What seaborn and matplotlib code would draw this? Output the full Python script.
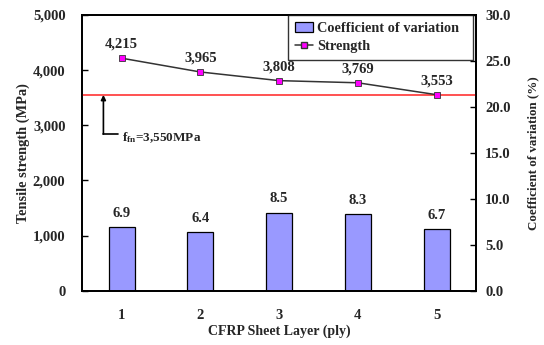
import matplotlib
matplotlib.use("Agg")
import matplotlib.pyplot as plt
import seaborn as sns
import pandas as pd
from matplotlib.ticker import FuncFormatter, MultipleLocator
from matplotlib.patches import Patch
from matplotlib.lines import Line2D

layers = ["1", "2", "3", "4", "5"]
strength = [4215, 3965, 3808, 3769, 3553]
cov = [6.9, 6.4, 8.5, 8.3, 6.7]
strength_labels = ["4,215", "3,965", "3,808", "3,769", "3,553"]
cov_labels = ["6.9", "6.4", "8.5", "8.3", "6.7"]
ffn = 3550

sns.set_theme(style="white")
plt.rcParams["font.family"] = ["Liberation Serif", "DejaVu Serif"]
plt.rcParams["font.weight"] = "bold"
plt.rcParams["mathtext.fontset"] = "custom"
plt.rcParams["mathtext.rm"] = "Liberation Serif:bold"
plt.rcParams["mathtext.bf"] = "Liberation Serif:bold"
plt.rcParams["mathtext.it"] = "Liberation Serif:bold"

df = pd.DataFrame({"layer": layers, "strength": strength, "cov": cov})

fig = plt.figure(figsize=(5.44, 3.45), dpi=100)
ax = fig.add_axes([0.151, 0.157, 0.724, 0.800])
ax2 = ax.twinx()

# bars on right axis
sns.barplot(data=df, x="layer", y="cov", ax=ax2, color="#9999FF", saturation=1,
            width=0.33, edgecolor="black", linewidth=0.9)
# strength on left axis
sns.pointplot(data=df, x="layer", y="strength", ax=ax, color="#333333",
              markers="s", linestyles="-", markersize=4.5, linewidth=1.1)
for ln in ax.lines:
    ln.set_markerfacecolor("#FF00FF")
    ln.set_markeredgecolor("#333333")
    ln.set_markeredgewidth(0.6)

ax.set_zorder(ax2.get_zorder() + 1)
ax.patch.set_visible(False)

ax.set_xlim(-0.5, 4.5)
ax.set_ylim(0, 5000)
ax2.set_ylim(0, 30)
ax.yaxis.set_major_locator(MultipleLocator(1000))
ax2.yaxis.set_major_locator(MultipleLocator(5))
ax.yaxis.set_major_formatter(FuncFormatter(lambda v, p: f"{int(v):,}"))
ax2.yaxis.set_major_formatter(FuncFormatter(lambda v, p: f"{v:.1f}"))

ax.axhline(ffn, color="#FF3333", lw=1.2, zorder=1)

for i, (s, lab) in enumerate(zip(strength, strength_labels)):
    ax.text(i, s + 130, lab, ha="center", va="bottom", fontsize=10.5, fontweight="bold")
for i, (c, lab) in enumerate(zip(cov, cov_labels)):
    ax2.text(i, c + 0.8, lab, ha="center", va="bottom", fontsize=10.5, fontweight="bold")

# f_fn annotation
ax.annotate("", xy=(-0.23, ffn), xytext=(-0.23, 2840),
            arrowprops=dict(arrowstyle="-|>", color="black", lw=1.2, mutation_scale=7,
                            shrinkA=0, shrinkB=0))
ax.plot([-0.23, -0.04], [2840, 2840], color="black", lw=1.2)
ax.text(0.01, 2780, r"$\mathrm{f_{fn}}$=3,550MPa", ha="left", va="center",
        fontsize=9.5, fontweight="bold")

# ticks
ax.set_xticks(range(len(layers)))
ax.set_xticklabels(layers)
ax.tick_params(axis="x", which="major", length=0, pad=13, labelsize=10.5)
ax.set_xticks([0.5, 1.5, 2.5, 3.5], minor=True)
ax.tick_params(axis="x", which="minor", direction="in", length=4, width=1, color="black")
ax.tick_params(axis="y", direction="in", length=4, width=1, color="black", labelsize=10.5,
               left=True, pad=12)
ax2.tick_params(axis="y", direction="in", length=4, width=1, color="black", labelsize=10.5,
                right=True, pad=6.5)
for t in ax.get_xticklabels() + ax.get_yticklabels() + ax2.get_yticklabels():
    t.set_fontweight("bold")

ax.set_xlabel("CFRP Sheet Layer (ply)", fontsize=10, fontweight="bold", labelpad=2)
ax.set_ylabel("Tensile strength (MPa)", fontsize=10.4, fontweight="bold", labelpad=2)
ax2.set_ylabel("Coefficient of variation (%)", fontsize=9.4, fontweight="bold", labelpad=12)
ax2.set_xlabel("")

for a in (ax, ax2):
    for sp in a.spines.values():
        sp.set_color("black")
        sp.set_linewidth(1.3)

handles = [Patch(facecolor="#9999FF", edgecolor="black", linewidth=0.9),
           Line2D([0], [0], color="#333333", marker="s", markerfacecolor="#FF00FF",
                  markeredgecolor="#333333", markersize=4.5, lw=1.1)]
leg = ax.legend(handles, ["Coefficient of variation  ", "Strength"], loc="upper right",
                bbox_to_anchor=(0.993, 1.0), borderaxespad=0, frameon=True, fancybox=False,
                edgecolor="black", prop={"weight": "bold", "size": 10.3},
                handlelength=1.2, handletextpad=0.3, borderpad=0.5, labelspacing=0.35)
leg.get_frame().set_linewidth(1.0)

fig.savefig("out.png", dpi=100)
